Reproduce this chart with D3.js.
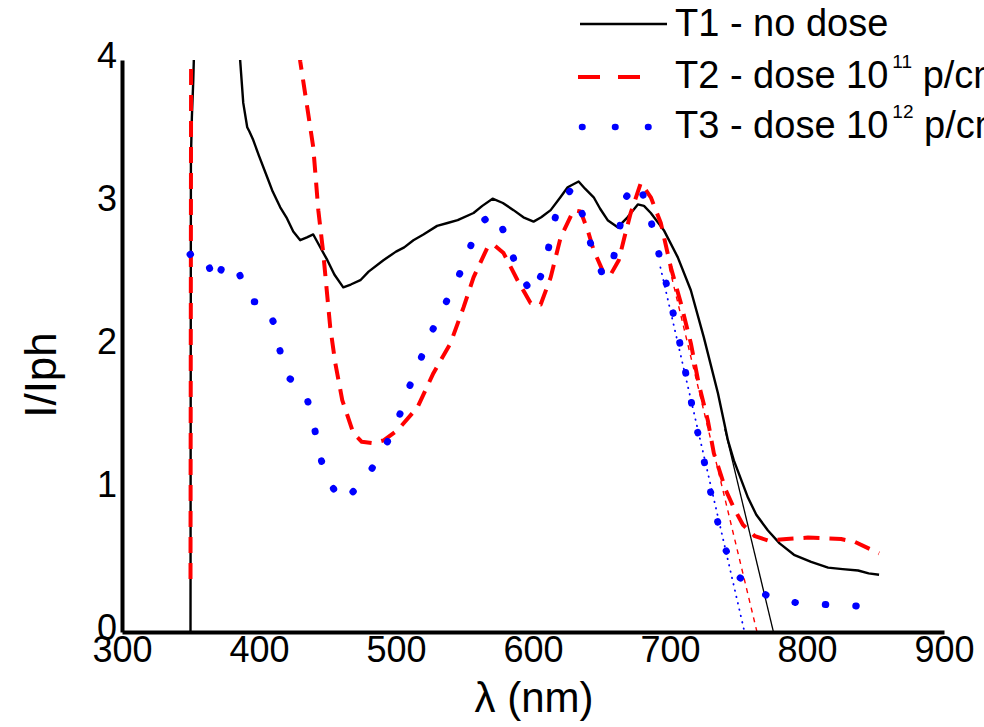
<!DOCTYPE html>
<html><head><meta charset="utf-8">
<script src="https://cdn.jsdelivr.net/npm/d3@7/dist/d3.min.js"></script>
<style>
body{margin:0;background:#fff;}
svg{display:block;font-family:"Liberation Sans",Arial,sans-serif;}
</style></head>
<body>
<svg id="c" width="984" height="727"></svg>
<script>
// ---- data (wavelength nm, I/Iph) ----
const xTicks = [300, 400, 500, 600, 700, 800, 900];
const yTicks = [0, 1, 2, 3, 4];
const seriesNames = ["T1 - no dose", "T2 - dose 10", "T3 - dose 10"];
const seriesExp = ["", "11", "12"];

const t1 = [[350,0],[350.3,3.3],[351,3.6],[352,3.85],[353,4.2],[360,6],[375,6],[383,4.5],
 [386.3,3.99],[388.5,3.7],[391.4,3.53],[393,3.5],[395.8,3.44],[400,3.33],[406,3.18],[410,3.08],[415.5,2.97],
 [420,2.9],[425,2.8],[430.1,2.74],[435,2.76],[439.6,2.78],[443,2.72],[449.9,2.6],[455,2.5],[461.5,2.41],
 [467,2.43],[474,2.46],[480,2.52],[490.8,2.6],[500,2.66],[506,2.69],[512.7,2.74],[520,2.78],[530,2.84],
 [537.6,2.86],[545,2.88],[556.6,2.93],[563,2.98],[570.5,3.03],[578,3.0],[585.8,2.95],[593,2.9],[600.4,2.87],
 [606,2.9],[612.9,2.95],[620,3.04],[625.3,3.11],[633.3,3.15],[638,3.1],[644.3,3.04],[649,2.96],[654.5,2.88],
 [661.8,2.83],[669,2.9],[676.5,2.99],[681,2.98],[686,2.93],[695.5,2.81],[705.7,2.62],[715.2,2.39],[724.7,2.06],
 [735,1.67],[742.3,1.34],[746.6,1.2],[756.9,0.94],[763,0.82],[771.5,0.71],[780,0.62],[790.5,0.54],[803,0.49],
 [815.4,0.45],[826,0.44],[837.3,0.43],[845,0.41],[852.6,0.4]];
const t1Tail = [[740,1.42],[775.5,0]];

const t2 = [[350,0.37],[350.5,4.5],[380,8],[420,6],[428,4.3],[430.1,3.99],[435.2,3.67],[439.6,3.39],
 [443.3,2.95],[446.9,2.65],[452,2.13],[455.7,1.88],[460.8,1.62],[468.9,1.39],[475,1.33],[483.5,1.32],
 [491,1.34],[501,1.41],[515.6,1.57],[527.3,1.81],[539.8,2.02],[549.3,2.27],[556.6,2.48],[566.8,2.69],
 [571.2,2.71],[578.5,2.65],[588.7,2.46],[598.2,2.3],[605.6,2.29],[612.9,2.48],[620.2,2.76],[629.7,2.95],
 [634.8,2.94],[639.9,2.81],[644.3,2.67],[651.6,2.51],[656.7,2.5],[662.6,2.6],[666.2,2.74],[671.3,2.93],
 [678.7,3.14],[686,3.04],[693.3,2.86],[700.6,2.55],[707.9,2.3],[715.2,2.02],[721.1,1.73],[727.6,1.48],
 [732,1.25],[740.8,0.99],[747,0.86],[753.2,0.75],[762,0.67],[771.5,0.64],[785,0.65],[800.7,0.66],
 [824.9,0.65],[835,0.63],[848.2,0.57],[852.6,0.55]];
const t2Tail = [[699.5,2.55],[763.5,0]];

const t3 = [[349.7,2.64],[354.8,2.67],[359.2,2.64],[362.9,2.57],[368,2.44],[373.1,2.55],[377.5,2.53],
 [382.6,2.57],[389.9,2.41],[395.8,2.31],[403.1,2.31],[410.4,2.17],[415.5,1.96],[421.3,1.78],[433,1.7],
 [439.6,1.48],[443.3,1.27],[449.9,1.06],[461.5,0.91],[477.6,1.07],[490.1,1.26],[501,1.47],[508.3,1.68],
 [516.4,1.87],[525.1,2.08],[534.6,2.27],[544.2,2.45],[552.9,2.66],[561,2.86],[572.7,2.93],[581.4,2.74],
 [588.7,2.53],[599.7,2.36],[608.5,2.55],[612.9,2.76],[618,2.97],[628.2,3.1],[637,2.9],[642.8,2.69],
 [651.6,2.48],[658.9,2.62],[663.3,2.83],[667.7,3.04],[677.2,3.14],[684.5,2.94],[689.6,2.73],[695.5,2.51],
 [700.6,2.3],[705.7,2.09],[710.1,1.88],[714.5,1.66],[718.9,1.45],[724,1.24],[728.4,1.03],[733.5,0.82],
 [739.3,0.6],[751,0.38],[771.5,0.25],[794.2,0.2],[819,0.19],[840.9,0.18],[850,0.18]];
const t3Tail = [[693,2.55],[754.4,0]];

// ---- layout ----
const svg = d3.select("#c");
const x = d3.scaleLinear().domain([300, 900]).range([122, 944]);
const y = d3.scaleLinear().domain([0, 4]).range([632, 60]);

svg.append("defs").append("clipPath").attr("id","clip")
  .append("rect").attr("x",122).attr("y",60).attr("width",822).attr("height",572);

const line = d3.line().x(d=>x(d[0])).y(d=>y(d[1]));
const g = svg.append("g").attr("clip-path","url(#clip)");

const styles = [
  {stroke:"#000", w:2.4, dash:null, cap:"butt"},
  {stroke:"#ff0000", w:4, dash:"16 10", cap:"butt"},
  {stroke:"#0000ff", w:7, dash:"0.5 30", cap:"round"}
];
const tails = [
  {data:t1Tail, stroke:"#000", w:1.3, dash:null, cap:"butt"},
  {data:t2Tail, stroke:"#ff0000", w:1.4, dash:"5 5", cap:"butt"},
  {data:t3Tail, stroke:"#0000ff", w:1.8, dash:"0.5 6", cap:"round"}
];
tails.forEach(s=>{
  g.append("path").datum(s.data).attr("d",line).attr("fill","none")
   .attr("stroke",s.stroke).attr("stroke-width",s.w).attr("stroke-dasharray",s.dash)
   .attr("stroke-linecap",s.cap);
});
[t1,t2,t3].forEach((d,i)=>{
  const s = styles[i];
  g.append("path").datum(d).attr("d",line).attr("fill","none")
   .attr("stroke",s.stroke).attr("stroke-width",s.w).attr("stroke-dasharray",s.dash)
   .attr("stroke-linecap",s.cap).attr("stroke-linejoin","round");
});

// ---- axes ----
const xAxis = svg.append("g").attr("transform","translate(0,632)")
  .call(d3.axisBottom(x).tickValues(xTicks).tickSize(0).tickPadding(4).tickFormat(d3.format("d")));
const yAxis = svg.append("g").attr("transform","translate(122,0)")
  .call(d3.axisLeft(y).tickValues(yTicks).tickSize(0).tickPadding(5).tickFormat(d3.format("d")));
[xAxis,yAxis].forEach(a=>{
  a.select(".domain").attr("stroke","#000").attr("stroke-width",4);
  a.selectAll("text").attr("font-size",36).attr("fill","#000")
   .attr("font-family","'Liberation Sans',Arial,sans-serif");
});
xAxis.selectAll("text").attr("dy","0.72em");
yAxis.selectAll("text").attr("dy","0.22em");

svg.append("text").attr("x",534).attr("y",712).attr("text-anchor","middle")
  .attr("font-size",42).text("λ (nm)");
svg.append("text").attr("transform","translate(56,375) rotate(-90)").attr("text-anchor","middle")
  .attr("font-size",44).text("I/Iph");

// ---- legend ----
const leg = svg.append("g");
const legY = [24, 77, 127];
const legText = [36, 88, 138];
const legStyle = [
  {x1:580,x2:667,stroke:"#000",w:2.4,dash:null,cap:"butt"},
  {x1:578,x2:640,stroke:"#ff0000",w:4,dash:"22 18",cap:"butt"},
  {x1:582,x2:650,stroke:"#0000ff",w:6.5,dash:"0.5 32.5",cap:"round"}
];
seriesNames.forEach((n,i)=>{
  const s = legStyle[i];
  leg.append("line").attr("x1",s.x1).attr("x2",s.x2).attr("y1",legY[i]).attr("y2",legY[i])
    .attr("stroke",s.stroke).attr("stroke-width",s.w).attr("stroke-dasharray",s.dash)
    .attr("stroke-linecap",s.cap);
  const t = leg.append("text").attr("x",675).attr("y",legText[i]).attr("font-size",38).attr("fill","#000");
  t.append("tspan").text(n);
  if (seriesExp[i]) {
    t.append("tspan").attr("dx",4).attr("dy",-20).attr("font-size",19).text(seriesExp[i]);
    t.append("tspan").attr("dy",20).text(" p/cm²");
  }
});
</script>
</body></html>
